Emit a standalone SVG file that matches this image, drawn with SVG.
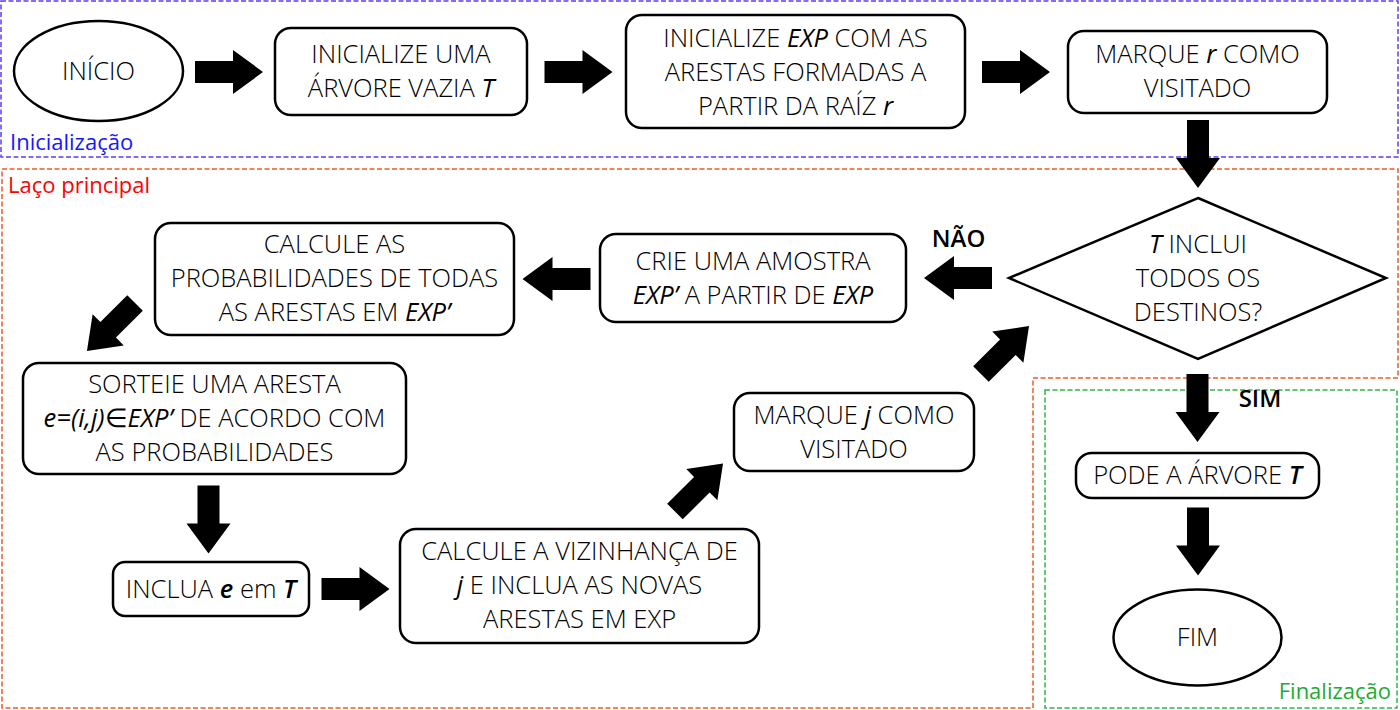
<svg xmlns="http://www.w3.org/2000/svg" width="1400" height="710" viewBox="0 0 1400 710">
<style>
.box{fill:#fff;stroke:#000;stroke-width:2.5}
.t{font-family:"Open Sans","Noto Sans","Liberation Sans",sans-serif;font-size:25.5px;font-weight:300;fill:#000;text-anchor:middle}
.i{font-style:italic;font-weight:400}
.ib{font-style:italic;font-weight:600}
.lb{font-family:"Open Sans","Noto Sans","Liberation Sans",sans-serif;font-size:24px;font-weight:600;fill:#000;text-anchor:middle}
.reg{font-family:"Open Sans","Noto Sans","Liberation Sans",sans-serif;font-size:22px;font-weight:400}
.zone{fill:none;stroke-width:1.5;stroke-dasharray:5 2.5}
</style>
<defs>
<path id="arr" d="M-34,-11 H4 V-22 L34,0 L4,22 V11 H-34 Z" fill="#000"/>
</defs>
<g id="zones">
<rect class="zone" x="1" y="1" width="1397" height="156" stroke="#5b3cf5"/>
<path class="zone" d="M2,169 H1398 V378 H1033 V708 H2 Z" stroke="#f05a28"/>
<rect class="zone" x="1045" y="390" width="352" height="318" stroke="#33b540"/>
<text class="reg" x="10" y="150" fill="#1515ff">Inicialização</text>
<text class="reg" x="8" y="193" fill="#ff0000">Laço principal</text>
<text class="reg" x="1391" y="699" fill="#22aa33" text-anchor="end">Finalização</text>
</g>
<g id="connectors">
<use href="#arr" transform="translate(229,72)"/>
<use href="#arr" transform="translate(578.5,72)"/>
<use href="#arr" transform="translate(1016,72)"/>
<use href="#arr" transform="translate(1198,154) rotate(90)"/>
<use href="#arr" transform="translate(958,278) rotate(180)"/>
<use href="#arr" transform="translate(556.5,279) rotate(180)"/>
<use href="#arr" transform="translate(111,327) rotate(135)"/>
<use href="#arr" transform="translate(208.5,519.5) rotate(90)"/>
<use href="#arr" transform="translate(355.5,589)"/>
<use href="#arr" transform="translate(699,487.5) rotate(-45)"/>
<use href="#arr" transform="translate(1005,350) rotate(-45)"/>
<use href="#arr" transform="translate(1197.5,408) rotate(90)"/>
<use href="#arr" transform="translate(1198,541.5) rotate(90)"/>
<text class="lb" x="958.5" y="247">NÃO</text>
<text class="lb" x="1260" y="407">SIM</text>
</g>
<g id="inicio">
<ellipse class="box" cx="98.5" cy="71" rx="84.5" ry="50"/>
<text class="t" x="98.5" y="80">INÍCIO</text>
</g>
<g id="init-tree">
<rect class="box" x="275" y="28" width="252" height="87" rx="16"/>
<text class="t" x="401" y="63">INICIALIZE UMA</text>
<text class="t" x="401" y="97">ÁRVORE VAZIA <tspan class="i">T</tspan></text>
</g>
<g id="init-exp">
<rect class="box" x="626" y="15" width="339" height="113" rx="16"/>
<text class="t" x="795.5" y="47">INICIALIZE <tspan class="i">EXP</tspan> COM AS</text>
<text class="t" x="795.5" y="81">ARESTAS FORMADAS A</text>
<text class="t" x="795.5" y="115">PARTIR DA RAÍZ <tspan class="i">r</tspan></text>
</g>
<g id="mark-r">
<rect class="box" x="1068" y="31" width="259" height="82" rx="16"/>
<text class="t" x="1197.5" y="63">MARQUE <tspan class="i">r</tspan> COMO</text>
<text class="t" x="1197.5" y="97">VISITADO</text>
</g>
<g id="decision">
<polygon class="box" points="1198,198 1386,278 1198,359 1009,278"/>
<text class="t" x="1198" y="253"><tspan class="i">T</tspan> INCLUI</text>
<text class="t" x="1198" y="287">TODOS OS</text>
<text class="t" x="1198" y="321">DESTINOS?</text>
</g>
<g id="sample">
<rect class="box" x="600" y="234" width="306" height="88" rx="16"/>
<text class="t" x="753" y="270">CRIE UMA AMOSTRA</text>
<text class="t" x="753" y="304"><tspan class="i">EXP’</tspan> A PARTIR DE <tspan class="i">EXP</tspan></text>
</g>
<g id="probs">
<rect class="box" x="155" y="223" width="359" height="112" rx="16"/>
<text class="t" x="334.5" y="253">CALCULE AS</text>
<text class="t" x="334.5" y="287">PROBABILIDADES DE TODAS</text>
<text class="t" x="334.5" y="321">AS ARESTAS EM <tspan class="i">EXP’</tspan></text>
</g>
<g id="draw">
<rect class="box" x="23" y="363" width="383" height="111" rx="16"/>
<text class="t" x="214.5" y="393">SORTEIE UMA ARESTA</text>
<text class="t" x="214.5" y="427"><tspan class="i">e=(i,j)</tspan><tspan font-weight="400">∈</tspan><tspan class="i">EXP’</tspan> DE ACORDO COM</text>
<text class="t" x="214.5" y="461">AS PROBABILIDADES</text>
</g>
<g id="include">
<rect class="box" x="113" y="562" width="196" height="54" rx="12"/>
<text class="t" x="211" y="598">INCLUA <tspan class="ib">e</tspan> em <tspan class="ib">T</tspan></text>
</g>
<g id="neigh">
<rect class="box" x="400" y="529" width="359" height="114" rx="16"/>
<text class="t" x="579.5" y="560">CALCULE A VIZINHANÇA DE</text>
<text class="t" x="579.5" y="594"><tspan class="i">j</tspan> E INCLUA AS NOVAS</text>
<text class="t" x="579.5" y="628">ARESTAS EM EXP</text>
</g>
<g id="mark-j">
<rect class="box" x="734" y="393" width="240" height="78" rx="16"/>
<text class="t" x="854" y="424">MARQUE <tspan class="i">j</tspan> COMO</text>
<text class="t" x="854" y="458">VISITADO</text>
</g>
<g id="prune">
<rect class="box" x="1076" y="453" width="243" height="45" rx="16"/>
<text class="t" x="1197.5" y="484">PODE A ÁRVORE <tspan class="ib">T</tspan></text>
</g>
<g id="fim">
<ellipse class="box" cx="1197.5" cy="637.5" rx="84" ry="48"/>
<text class="t" x="1197.5" y="646">FIM</text>
</g>
</svg>
